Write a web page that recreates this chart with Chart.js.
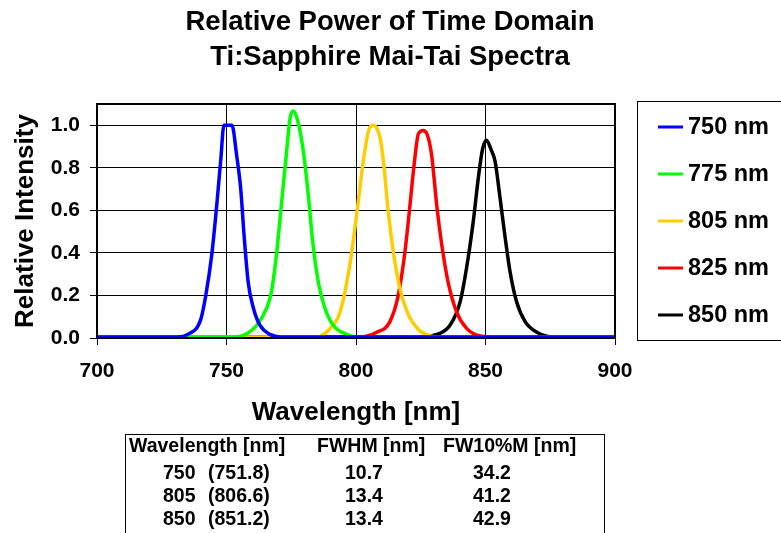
<!DOCTYPE html>
<html>
<head>
<meta charset="utf-8">
<script src="https://cdn.jsdelivr.net/npm/chart.js@4"></script>
<style>
  body { margin: 0; background: #fff; font-family: "Liberation Sans", Arial, sans-serif; }
  #wrap { position: relative; width: 781px; height: 533px; overflow: hidden; }
  #table { position: absolute; left: 125px; top: 434px; width: 478px; height: 110px;
           border: 1px solid #000; font-weight: bold; font-size: 19.5px; color: #000; }
  #table span { position: absolute; white-space: nowrap; line-height: 20px; }
</style>
</head>
<body>
<div id="wrap">
  <canvas id="spectra"></canvas>
  <div id="table"></div>
</div>
<script>
// Series: wavelength (nm) and relative intensity
const seriesNames = ['750 nm', '775 nm', '805 nm', '825 nm', '850 nm'];
const seriesColors = ['#0000ff', '#00ff00', '#ffcc00', '#ff0000', '#000000'];

const wl750 = [700, 731, 735, 740, 742, 744.3, 746.2, 747.8, 749.0, 750.6, 752.1, 753.9, 755.5, 756.8, 758.4, 760.4, 762.9, 766.8, 771, 900];
const int750 = [0.005, 0.005, 0.017, 0.085, 0.20, 0.39, 0.62, 0.84, 1.0, 1.0, 1.0, 0.86, 0.70, 0.48, 0.26, 0.14, 0.06, 0.017, 0.005, 0.005];

const wl775 = [700, 754, 757.8, 761.7, 765.5, 767.4, 769.4, 771.3, 773.2, 774.5, 775.8, 777.5, 779.7, 781.6, 783.3, 785.5, 788.0, 791.2, 796.4, 800, 900];
const int775 = [0.005, 0.005, 0.02, 0.06, 0.14, 0.22, 0.405, 0.64, 0.875, 1.03, 1.067, 1.02, 0.875, 0.67, 0.45, 0.26, 0.14, 0.06, 0.017, 0.005, 0.005];

const wl805 = [700, 785, 790, 793.8, 797.7, 800.3, 802.8, 805.0, 806.7, 808, 809.3, 810.6, 812.5, 814.4, 817, 820.2, 824.1, 828.6, 832, 900];
const int805 = [0.005, 0.005, 0.045, 0.12, 0.35, 0.585, 0.83, 0.98, 1.0, 0.985, 0.94, 0.83, 0.59, 0.405, 0.23, 0.11, 0.04, 0.01, 0.005, 0.005];

const wl825 = [700, 801.5, 808, 813.1, 816.3, 818.9, 820.8, 822.4, 824.1, 826.0, 827.6, 829.2, 831.2, 833.1, 835.6, 838.9, 842.7, 847.9, 855, 900];
const int825 = [0.005, 0.005, 0.027, 0.077, 0.20, 0.405, 0.62, 0.81, 0.96, 0.976, 0.953, 0.86, 0.62, 0.44, 0.26, 0.12, 0.045, 0.01, 0.005, 0.005];

const wl850 = [700, 823.4, 831.2, 836.3, 840.2, 842.7, 845.3, 847.2, 848.9, 850.4, 852, 853.7, 855.6, 857.5, 859.5, 862, 865.3, 869.8, 876.2, 900];
const int850 = [0.005, 0.005, 0.017, 0.06, 0.17, 0.33, 0.55, 0.75, 0.89, 0.93, 0.89, 0.83, 0.66, 0.48, 0.31, 0.17, 0.077, 0.027, 0.005, 0.005];

const xTickValues = [700, 750, 800, 850, 900];
const yTickValues = [0, 0.2, 0.4, 0.6, 0.8, 1.0];

const titleLines = ['Relative Power of Time Domain', 'Ti:Sapphire Mai-Tai Spectra'];

// Table under the chart
const tableHeader = ['Wavelength [nm]', 'FWHM [nm]', 'FW10%M [nm]'];
const tableNominal = ['750', '805', '850'];
const tablePeak = ['(751.8)', '(806.6)', '(851.2)'];
const tableFwhm = ['10.7', '13.4', '13.4'];
const tableFw10 = ['34.2', '41.2', '42.9'];

const xs = [wl750, wl775, wl805, wl825, wl850];
const ys = [int750, int775, int805, int825, int850];

const datasets = seriesNames.map((name, i) => ({
    label: name,
    data: xs[i].map((x, j) => ({ x: x, y: ys[i][j] })),
    borderColor: seriesColors[i],
    backgroundColor: seriesColors[i],
    borderWidth: 3.5,
    pointRadius: 0,
    showLine: true,
    cubicInterpolationMode: 'monotone'
}));

const FONT = '"Liberation Sans", Arial, sans-serif';

// title, frame and legend box drawn on the canvas
const decorations = {
    id: 'decorations',
    afterDatasetsDraw(chart) {
        const c = chart.ctx;
        const a = chart.chartArea;
        c.save();
        c.strokeStyle = '#000';
        c.lineWidth = 2;
        c.strokeRect(a.left, a.top, a.right - a.left, a.bottom - a.top);
        c.restore();
    },
    afterDraw(chart) {
        const c = chart.ctx;
        c.save();
        c.fillStyle = '#000';
        c.textAlign = 'center';
        c.textBaseline = 'middle';
        c.font = 'bold 27.5px ' + FONT;
        titleLines.forEach((t, i) => c.fillText(t, 390, 22 + i * 35));

        // legend
        c.strokeStyle = '#000';
        c.lineWidth = 1;
        c.strokeRect(637.5, 101.5, 170, 239);
        c.font = 'bold 23.5px ' + FONT;
        c.textAlign = 'left';
        chart.data.datasets.forEach((ds, i) => {
            const y = 127 + i * 47;
            c.strokeStyle = ds.borderColor;
            c.lineWidth = 3;
            c.beginPath();
            c.moveTo(658, y);
            c.lineTo(683, y);
            c.stroke();
            c.fillText(ds.label, 688, y + 1);
        });
        c.restore();
    }
};

new Chart(document.getElementById('spectra'), {
    type: 'scatter',
    data: { datasets: datasets },
    options: {
        responsive: true,
        maintainAspectRatio: false,
        animation: false,
        layout: { padding: { left: 0, right: 166, top: 104, bottom: 102 } },
        plugins: { legend: { display: false }, title: { display: false }, tooltip: { enabled: false } },
        scales: {
            x: {
                type: 'linear',
                min: 700, max: 900,
                afterFit: s => { s.height = 93; },
                afterBuildTicks: s => { s.ticks = xTickValues.map(v => ({ value: v })); },
                ticks: { color: '#000', padding: 14,
                         font: { family: FONT, size: 21, weight: 'bold', lineHeight: 1.2 } },
                grid: { color: '#000', lineWidth: 1, tickLength: 7 },
                border: { color: '#000', width: 2 },
                title: { display: true, text: 'Wavelength [nm]', color: '#000',
                         padding: { top: 0, bottom: 3 },
                         font: { family: FONT, size: 26, weight: 'bold', lineHeight: 1.2 } }
            },
            y: {
                min: 0, max: 1.1,
                afterFit: s => { s.width = 97; },
                afterBuildTicks: s => { s.ticks = yTickValues.map(v => ({ value: v })); },
                ticks: { color: '#000', padding: 10,
                         callback: v => v.toFixed(1),
                         font: { family: FONT, size: 21, weight: 'bold', lineHeight: 1.2 } },
                grid: { color: '#000', lineWidth: 1, tickLength: 7 },
                border: { color: '#000', width: 2 },
                title: { display: true, text: 'Relative Intensity', color: '#000',
                         padding: { top: 10, bottom: 0 },
                         font: { family: FONT, size: 26, weight: 'bold', lineHeight: 1.2 } }
            }
        }
    },
    plugins: [decorations]
});

// fill the table
const table = document.getElementById('table');
function cell(text, left, top) {
    const s = document.createElement('span');
    s.textContent = text;
    s.style.left = left + 'px';
    s.style.top = top + 'px';
    table.appendChild(s);
}
const headLeft = [3, 191, 317];
tableHeader.forEach((h, i) => cell(h, headLeft[i], 0));
tableNominal.forEach((v, r) => {
    const top = 27 + r * 23;
    cell(v, 37, top);
    cell(tablePeak[r], 82, top);
    cell(tableFwhm[r], 219, top);
    cell(tableFw10[r], 347, top);
});
</script>
</body>
</html>
